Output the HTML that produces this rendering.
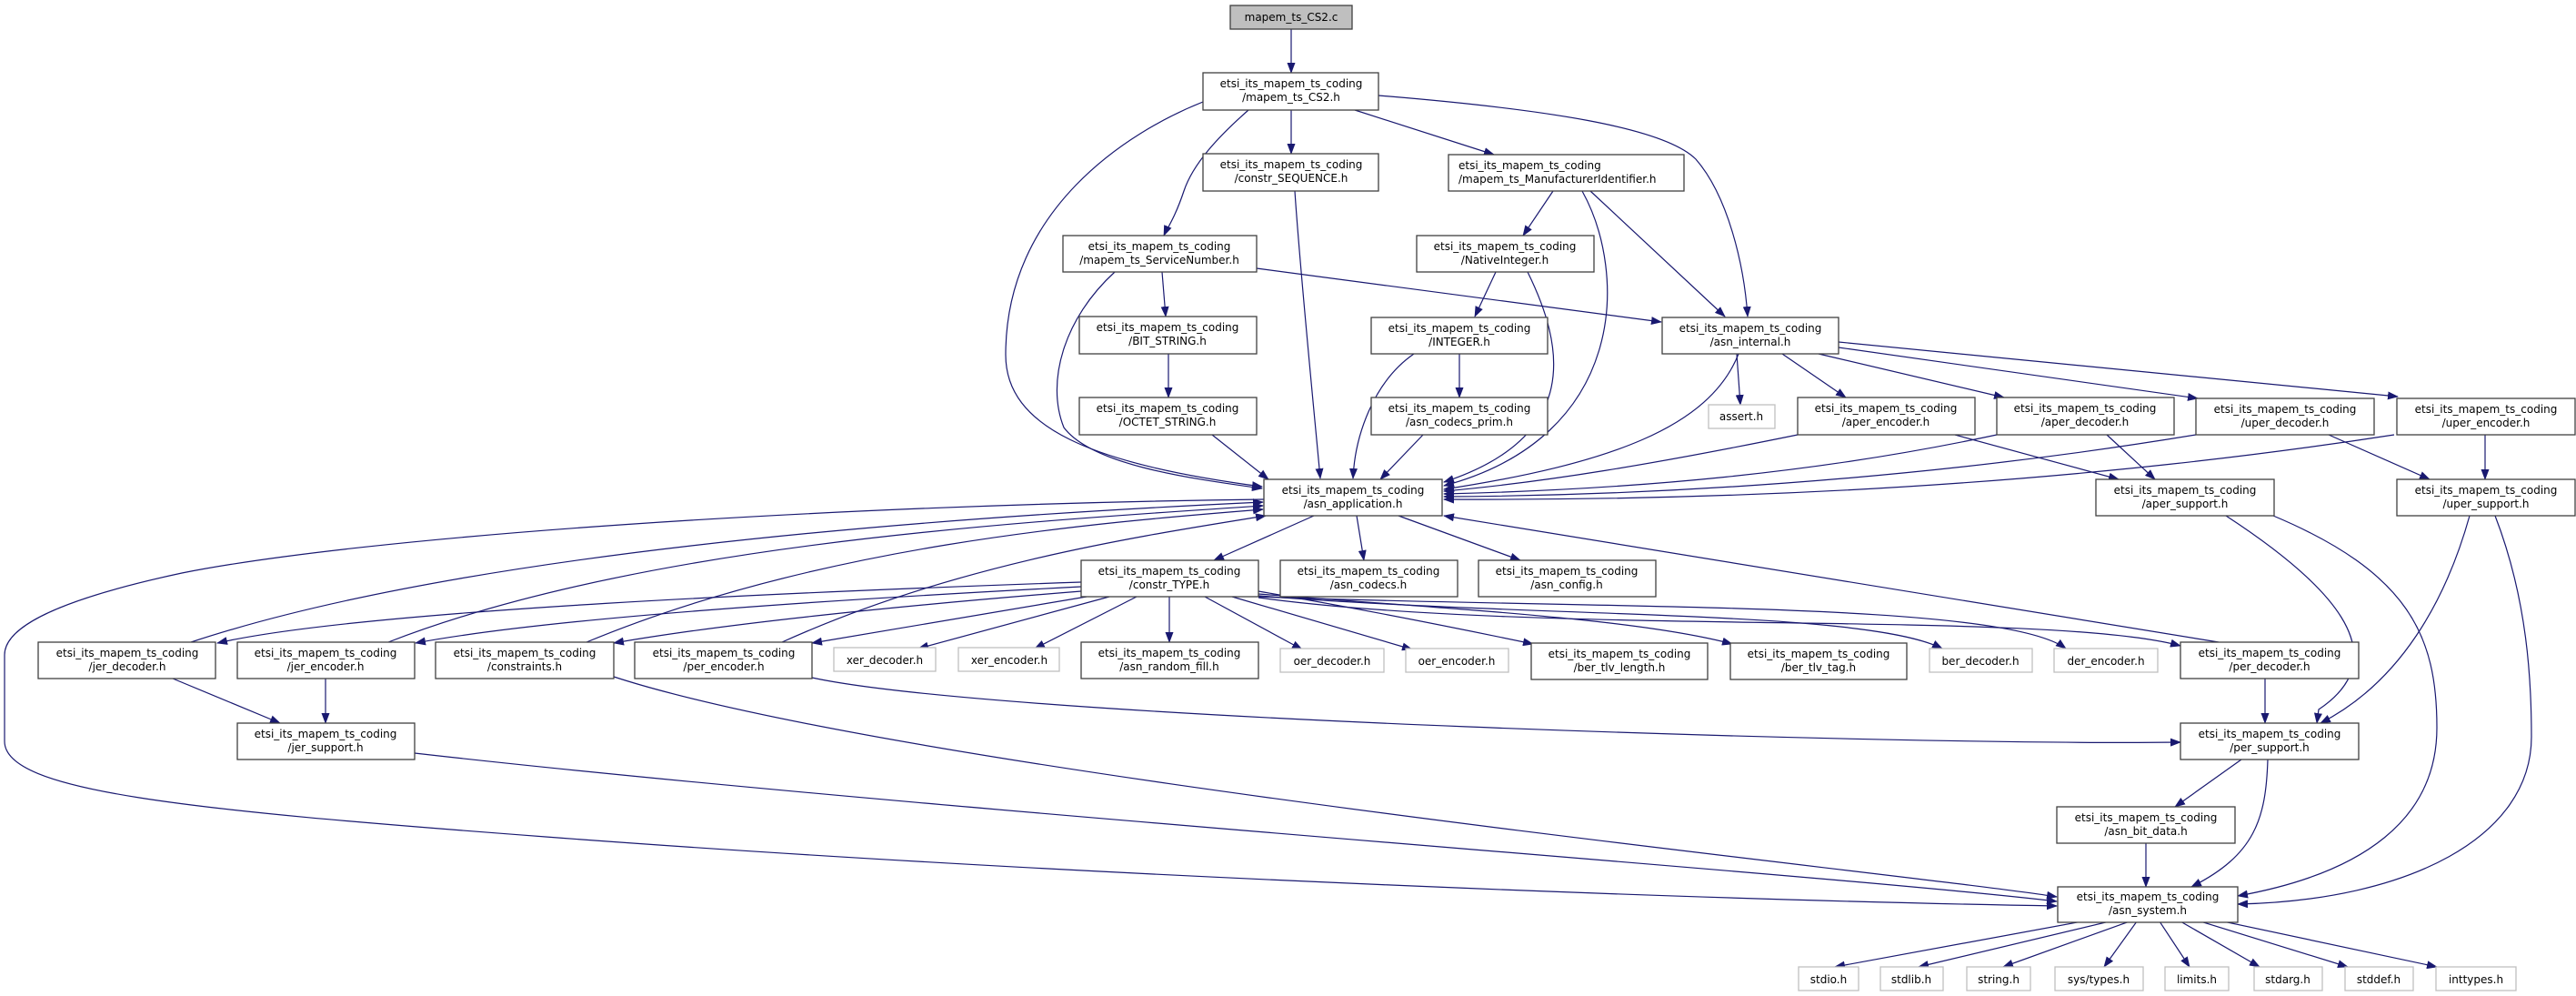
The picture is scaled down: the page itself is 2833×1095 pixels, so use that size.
<!DOCTYPE html>
<html><head><meta charset="utf-8"><style>
html,body{margin:0;padding:0;background:#fff}
svg{display:block}
text{font-family:"DejaVu Sans","Liberation Sans",sans-serif;font-size:12px;fill:#000;text-anchor:middle}
.b{fill:#fff;stroke:#404040;stroke-width:1.3}
.g{fill:#fff;stroke:#bfbfbf;stroke-width:1.3}
.e{fill:none;stroke:#191970;stroke-width:1.2;marker-end:url(#a)}
</style></head><body>
<svg width="2833" height="1095" viewBox="0 0 2833 1095" xmlns="http://www.w3.org/2000/svg">
<defs><marker id="a" markerUnits="userSpaceOnUse" markerWidth="12" markerHeight="9" refX="11" refY="4.5" orient="auto"><path d="M0,0 L12,4.5 L0,9 z" fill="#191970"/></marker></defs>

<!-- edges -->
<path class="e" d="M1420,32 L1420,80"/>
<path class="e" d="M1420,121 L1420,169"/>
<path class="e" d="M1490,121 L1643,170"/>
<path class="e" d="M1373,121 C1340,150 1312,180 1302,210 C1292,240 1283,252 1280,259"/>
<path class="e" d="M1516,105 C1700,120 1830,140 1865,175 C1900,215 1918,290 1922,348"/>
<path class="e" d="M1323,112 C1240,145 1106,230 1106,390 C1106,470 1200,510 1388,535"/>
<path class="e" d="M1424,210 C1430,300 1445,450 1452,526"/>
<path class="e" d="M1708,210 L1675,259"/>
<path class="e" d="M1749,210 L1897,348"/>
<path class="e" d="M1740,210 C1790,300 1790,480 1588,534"/>
<path class="e" d="M1278,299 L1282,348"/>
<path class="e" d="M1382,295 L1827,354"/>
<path class="e" d="M1226,299 C1170,350 1150,420 1170,470 C1200,510 1300,525 1388,537"/>
<path class="e" d="M1645,299 L1622,348"/>
<path class="e" d="M1680,299 C1720,380 1740,480 1588,530"/>
<path class="e" d="M1285,389 L1285,437"/>
<path class="e" d="M1605,389 L1605,437"/>
<path class="e" d="M1555,389 C1510,420 1490,480 1488,526"/>
<path class="e" d="M1333,478 L1395,527"/>
<path class="e" d="M1565,478 L1518,527"/>
<path class="e" d="M1912,389 C1880,470 1770,510 1588,538"/>
<path class="e" d="M1910,389 L1914,445"/>
<path class="e" d="M1960,389 L2030,437"/>
<path class="e" d="M2000,389 L2204,437"/>
<path class="e" d="M2022,382 L2417,438"/>
<path class="e" d="M2022,376 L2637,436"/>
<path class="e" d="M1977,478 C1820,510 1700,530 1588,540"/>
<path class="e" d="M2196,478 C2000,520 1800,538 1588,543"/>
<path class="e" d="M2415,478 C2100,530 1800,545 1588,546"/>
<path class="e" d="M2633,478 C2200,545 1800,550 1588,549"/>
<path class="e" d="M2150,478 L2330,527"/>
<path class="e" d="M2317,478 L2370,527"/>
<path class="e" d="M2561,478 L2672,527"/>
<path class="e" d="M2733,478 L2733,527"/>
<path class="e" d="M1445,567 L1335,616"/>
<path class="e" d="M1492,567 L1500,616"/>
<path class="e" d="M1538,567 L1672,616"/>
<path class="e" d="M1390,549 C900,555 400,590 200,630 C60,660 5,690 5,720 L5,815 C5,870 200,890 600,920 C1200,965 1900,990 2262,996"/>
<path class="e" d="M210,706 C500,610 1000,570 1389,552"/>
<path class="e" d="M427,706 C700,600 1100,575 1389,556"/>
<path class="e" d="M645,706 C900,600 1200,575 1389,560"/>
<path class="e" d="M860,706 C1050,620 1250,590 1392,567"/>
<path class="e" d="M2440,706 L1588,567"/>
<path class="e" d="M1189,640 C900,650 400,670 239,707"/>
<path class="e" d="M1189,645 C900,660 600,680 457,707"/>
<path class="e" d="M1189,650 C1000,665 800,685 675,707"/>
<path class="e" d="M1195,656 L893,707"/>
<path class="e" d="M1220,656 L1010,713"/>
<path class="e" d="M1250,656 L1138,713"/>
<path class="e" d="M1286,656 L1286,706"/>
<path class="e" d="M1325,656 L1432,714"/>
<path class="e" d="M1355,656 L1553,714"/>
<path class="e" d="M1384,650 C1500,670 1600,690 1686,708"/>
<path class="e" d="M1384,653 C1600,670 1800,680 1905,708"/>
<path class="e" d="M1384,655 C1700,680 2050,670 2136,713"/>
<path class="e" d="M1384,656 C1750,670 2200,660 2272,713"/>
<path class="e" d="M1384,657 C1700,700 2250,670 2398,710"/>
<path class="e" d="M190,746 L308,795"/>
<path class="e" d="M358,746 L358,795"/>
<path class="e" d="M675,744 C1000,850 2100,960 2262,986"/>
<path class="e" d="M893,745 C1100,790 2100,820 2398,816"/>
<path class="e" d="M456,828 C1000,890 2000,960 2262,991"/>
<path class="e" d="M2491,746 L2491,795"/>
<path class="e" d="M2448,567 C2560,640 2640,720 2550,780 L2548,795"/>
<path class="e" d="M2500,567 C2650,630 2680,700 2680,800 C2680,900 2600,960 2461,985"/>
<path class="e" d="M2716,567 C2690,660 2640,750 2552,795"/>
<path class="e" d="M2744,567 C2780,660 2784,750 2784,810 C2784,920 2650,990 2461,994"/>
<path class="e" d="M2465,835 L2392,887"/>
<path class="e" d="M2494,835 C2492,900 2480,940 2410,975"/>
<path class="e" d="M2360,927 L2360,975"/>
<path class="e" d="M2290,1013 L2018,1063"/>
<path class="e" d="M2320,1013 L2110,1063"/>
<path class="e" d="M2342,1013 L2203,1063"/>
<path class="e" d="M2350,1013 L2314,1063"/>
<path class="e" d="M2375,1013 L2408,1063"/>
<path class="e" d="M2398,1013 L2485,1063"/>
<path class="e" d="M2420,1013 L2582,1063"/>
<path class="e" d="M2445,1013 L2680,1063"/>

<!-- nodes -->
<rect x="1353" y="6" width="134" height="26" fill="#bfbfbf" stroke="#404040" stroke-width="1.3"/><text x="1420" y="23">mapem_ts_CS2.c</text>
<rect class="b" x="1323" y="80" width="193" height="41"/><text x="1420" y="96">etsi_its_mapem_ts_coding</text><text x="1420" y="111">/mapem_ts_CS2.h</text>
<rect class="b" x="1323" y="169" width="193" height="41"/><text x="1420" y="185">etsi_its_mapem_ts_coding</text><text x="1420" y="200">/constr_SEQUENCE.h</text>
<rect class="b" x="1593" y="170" width="259" height="40"/><text x="1604" y="186" style="text-anchor:start">etsi_its_mapem_ts_coding</text><text x="1604" y="201" style="text-anchor:start">/mapem_ts_ManufacturerIdentifier.h</text>
<rect class="b" x="1169" y="259" width="213" height="40"/><text x="1275" y="275">etsi_its_mapem_ts_coding</text><text x="1275" y="290">/mapem_ts_ServiceNumber.h</text>
<rect class="b" x="1558" y="259" width="195" height="40"/><text x="1655" y="275">etsi_its_mapem_ts_coding</text><text x="1655" y="290">/NativeInteger.h</text>
<rect class="b" x="1187" y="348" width="195" height="41"/><text x="1284" y="364">etsi_its_mapem_ts_coding</text><text x="1284" y="379">/BIT_STRING.h</text>
<rect class="b" x="1508" y="349" width="194" height="40"/><text x="1605" y="365">etsi_its_mapem_ts_coding</text><text x="1605" y="380">/INTEGER.h</text>
<rect class="b" x="1828" y="349" width="194" height="40"/><text x="1925" y="365">etsi_its_mapem_ts_coding</text><text x="1925" y="380">/asn_internal.h</text>
<rect class="b" x="1187" y="437" width="195" height="41"/><text x="1284" y="453">etsi_its_mapem_ts_coding</text><text x="1284" y="468">/OCTET_STRING.h</text>
<rect class="b" x="1508" y="437" width="194" height="41"/><text x="1605" y="453">etsi_its_mapem_ts_coding</text><text x="1605" y="468">/asn_codecs_prim.h</text>
<rect class="g" x="1879" y="445" width="73" height="26"/><text x="1915" y="462">assert.h</text>
<rect class="b" x="1977" y="437" width="195" height="41"/><text x="2074" y="453">etsi_its_mapem_ts_coding</text><text x="2074" y="468">/aper_encoder.h</text>
<rect class="b" x="2196" y="437" width="195" height="41"/><text x="2293" y="453">etsi_its_mapem_ts_coding</text><text x="2293" y="468">/aper_decoder.h</text>
<rect class="b" x="2415" y="438" width="196" height="40"/><text x="2513" y="454">etsi_its_mapem_ts_coding</text><text x="2513" y="469">/uper_decoder.h</text>
<rect class="b" x="2636" y="438" width="196" height="40"/><text x="2734" y="454">etsi_its_mapem_ts_coding</text><text x="2734" y="469">/uper_encoder.h</text>
<rect class="b" x="1390" y="527" width="196" height="40"/><text x="1488" y="543">etsi_its_mapem_ts_coding</text><text x="1488" y="558">/asn_application.h</text>
<rect class="b" x="2305" y="527" width="196" height="40"/><text x="2403" y="543">etsi_its_mapem_ts_coding</text><text x="2403" y="558">/aper_support.h</text>
<rect class="b" x="2636" y="527" width="196" height="40"/><text x="2734" y="543">etsi_its_mapem_ts_coding</text><text x="2734" y="558">/uper_support.h</text>
<rect class="b" x="1189" y="616" width="195" height="40"/><text x="1286" y="632">etsi_its_mapem_ts_coding</text><text x="1286" y="647">/constr_TYPE.h</text>
<rect class="b" x="1408" y="616" width="195" height="40"/><text x="1505" y="632">etsi_its_mapem_ts_coding</text><text x="1505" y="647">/asn_codecs.h</text>
<rect class="b" x="1626" y="616" width="195" height="40"/><text x="1723" y="632">etsi_its_mapem_ts_coding</text><text x="1723" y="647">/asn_config.h</text>
<rect class="b" x="42" y="706" width="195" height="40"/><text x="140" y="722">etsi_its_mapem_ts_coding</text><text x="140" y="737">/jer_decoder.h</text>
<rect class="b" x="261" y="706" width="195" height="40"/><text x="358" y="722">etsi_its_mapem_ts_coding</text><text x="358" y="737">/jer_encoder.h</text>
<rect class="b" x="479" y="706" width="196" height="40"/><text x="577" y="722">etsi_its_mapem_ts_coding</text><text x="577" y="737">/constraints.h</text>
<rect class="b" x="698" y="706" width="195" height="40"/><text x="796" y="722">etsi_its_mapem_ts_coding</text><text x="796" y="737">/per_encoder.h</text>
<rect class="g" x="917" y="712" width="112" height="26"/><text x="973" y="730">xer_decoder.h</text>
<rect class="g" x="1054" y="712" width="111" height="26"/><text x="1110" y="730">xer_encoder.h</text>
<rect class="b" x="1189" y="706" width="195" height="40"/><text x="1286" y="722">etsi_its_mapem_ts_coding</text><text x="1286" y="737">/asn_random_fill.h</text>
<rect class="g" x="1408" y="713" width="114" height="26"/><text x="1465" y="731">oer_decoder.h</text>
<rect class="g" x="1546" y="713" width="113" height="26"/><text x="1602" y="731">oer_encoder.h</text>
<rect class="b" x="1684" y="707" width="194" height="40"/><text x="1781" y="723">etsi_its_mapem_ts_coding</text><text x="1781" y="738">/ber_tlv_length.h</text>
<rect class="b" x="1903" y="707" width="194" height="40"/><text x="2000" y="723">etsi_its_mapem_ts_coding</text><text x="2000" y="738">/ber_tlv_tag.h</text>
<rect class="g" x="2122" y="713" width="113" height="26"/><text x="2178" y="731">ber_decoder.h</text>
<rect class="g" x="2259" y="713" width="114" height="26"/><text x="2316" y="731">der_encoder.h</text>
<rect class="b" x="2398" y="706" width="196" height="40"/><text x="2496" y="722">etsi_its_mapem_ts_coding</text><text x="2496" y="737">/per_decoder.h</text>
<rect class="b" x="261" y="795" width="195" height="40"/><text x="358" y="811">etsi_its_mapem_ts_coding</text><text x="358" y="826">/jer_support.h</text>
<rect class="b" x="2398" y="795" width="196" height="40"/><text x="2496" y="811">etsi_its_mapem_ts_coding</text><text x="2496" y="826">/per_support.h</text>
<rect class="b" x="2262" y="887" width="196" height="40"/><text x="2360" y="903">etsi_its_mapem_ts_coding</text><text x="2360" y="918">/asn_bit_data.h</text>
<rect class="b" x="2263" y="975" width="198" height="39"/><text x="2362" y="990">etsi_its_mapem_ts_coding</text><text x="2362" y="1005">/asn_system.h</text>
<rect class="g" x="1978" y="1063" width="66" height="26"/><text x="2011" y="1081">stdio.h</text>
<rect class="g" x="2068" y="1063" width="69" height="26"/><text x="2102" y="1081">stdlib.h</text>
<rect class="g" x="2163" y="1063" width="70" height="26"/><text x="2198" y="1081">string.h</text>
<rect class="g" x="2260" y="1063" width="97" height="26"/><text x="2308" y="1081">sys/types.h</text>
<rect class="g" x="2381" y="1063" width="70" height="26"/><text x="2416" y="1081">limits.h</text>
<rect class="g" x="2479" y="1063" width="75" height="26"/><text x="2516" y="1081">stdarg.h</text>
<rect class="g" x="2579" y="1063" width="75" height="26"/><text x="2616" y="1081">stddef.h</text>
<rect class="g" x="2679" y="1063" width="88" height="26"/><text x="2723" y="1081">inttypes.h</text>
</svg>
</body></html>
